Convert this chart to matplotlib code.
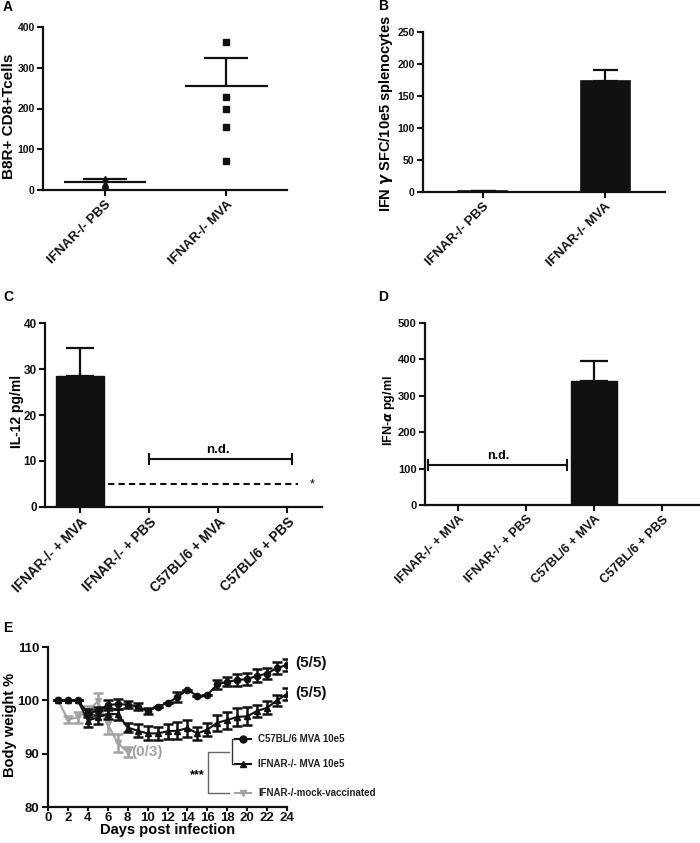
import numpy as np
import matplotlib
matplotlib.use('Agg')
import matplotlib.pyplot as plt
from matplotlib.lines import Line2D

plt.rcParams['font.family'] = ['Liberation Sans', 'DejaVu Sans']
plt.rcParams['font.weight'] = 'bold'
plt.rcParams['axes.labelweight'] = 'bold'

W, H = 700, 843
BLACK = '#111111'
GRAY = '#a3a3a3'

# ---- data ----
# panel A
a_groups = ['IFNAR-/- PBS', 'IFNAR-/- MVA']
a_pbs_points = [28, 15, 10, 6, 3]
a_mva_points = [363, 227, 198, 155, 70]
a_means = [19, 255]
a_sem = [7, 70]

# panel B
b_groups = ['IFNAR-/- PBS', 'IFNAR-/- MVA']
b_values = [2, 174]
b_err = [0, 17]

# panel C
c_groups = ['IFNAR-/- + MVA', 'IFNAR-/- + PBS', 'C57BL/6 + MVA', 'C57BL/6 + PBS']
c_values = [28.5, 0, 0, 0]
c_err = [6, 0, 0, 0]
c_detect_limit = 5
c_nd_level = 10.5

# panel D
d_groups = ['IFNAR-/- + MVA', 'IFNAR-/- + PBS', 'C57BL/6 + MVA', 'C57BL/6 + PBS']
d_values = [0, 0, 340, 0]
d_err = [0, 0, 55, 0]
d_nd_level = 110

# panel E
days = np.arange(1, 25)
c57_w = [100, 100, 100, 97.6, 98.0, 99.1, 99.3, 99.2, 98.8, 98.0, 98.8, 99.5,
         100.6, 102.0, 100.8, 101.0, 103.0, 103.5, 103.8, 104.0, 104.6, 105.0, 106.1, 106.6]
c57_e = [0, 0, 0, 0.8, 0.8, 1.0, 0.9, 0.7, 0.7, 0.6, 0, 0,
         1.0, 0, 0, 0, 0.8, 0.9, 1.1, 1.2, 1.2, 1.0, 1.1, 1.1]
ifnar_w = [100, 100, 100, 96.2, 96.8, 97.5, 97.4, 94.9, 94.3, 93.8, 93.8, 94.2,
           94.3, 94.8, 93.8, 94.5, 95.8, 96.3, 96.9, 97.0, 98.0, 98.6, 100.0, 101.2]
ifnar_e = [0, 0, 0, 1.2, 1.3, 1.0, 1.0, 0.9, 1.2, 1.3, 1.2, 1.4,
           1.6, 1.6, 1.2, 1.2, 1.5, 1.6, 1.7, 1.7, 1.2, 1.2, 1.0, 1.2]
mock_days = np.arange(1, 9)
mock_w = [100, 96.4, 96.8, 98.0, 99.8, 95.5, 92.0, 90.3]
mock_e = [0, 0.7, 1.0, 1.0, 1.6, 1.8, 1.6, 1.0]


def rect(l, t, r, b):
    return [l / W, 1 - b / H, (r - l) / W, (b - t) / H]


def px(x, y):
    return x / W, 1 - y / H


def style(ax, fs=8.0):
    # only the y tick label size here, x labels are set per panel
    for s in ['top', 'right']:
        ax.spines[s].set_visible(False)
    for s in ['left', 'bottom']:
        ax.spines[s].set_linewidth(1.6)
        ax.spines[s].set_color(BLACK)
    ax.tick_params(direction='out', length=4, width=1.5, colors=BLACK, pad=2)
    ax.tick_params(axis='y', labelsize=fs)
    for lab in ax.get_yticklabels():
        lab.set_fontweight('bold')


def cat_labels(ax, labels, fs):
    ax.set_xticks(np.arange(len(labels)))
    ax.set_xticklabels(labels, rotation=45, ha='right', rotation_mode='anchor',
                       fontsize=fs, fontweight='bold')


fig = plt.figure(figsize=(W / 100, H / 100), dpi=100)

# ---- A ----
ax = fig.add_axes(rect(43, 27, 287, 190))
x = np.arange(len(a_groups))
ax.plot(np.full(len(a_pbs_points), x[0]), a_pbs_points, '^', color=BLACK, ms=5)
ax.plot(np.full(len(a_mva_points), x[1]), a_mva_points, 's', color=BLACK, ms=5)
ax.hlines(a_means, x - 0.34, x + 0.34, color=BLACK, lw=1.6)
ax.vlines(x, a_means, np.add(a_means, a_sem), color=BLACK, lw=1.6)
ax.hlines(np.add(a_means, a_sem), x - 0.18, x + 0.18, color=BLACK, lw=1.6)
ax.set_xlim(-0.51, 1.5)
ax.set_ylim(0, 400)
ax.set_yticks([0, 100, 200, 300, 400])
style(ax, 7.5)
cat_labels(ax, a_groups, 9.5)
ax.set_ylabel('B8R+ CD8+Tcells', fontsize=11)
ax.yaxis.set_label_coords(-0.11, 0.45)

# ---- B ----
ax = fig.add_axes(rect(423, 32, 665, 192))
x = np.arange(len(b_groups))
ax.bar(x, b_values, width=0.4, color=BLACK, edgecolor=BLACK, lw=1.2)
ax.errorbar(x, b_values, yerr=[np.zeros(2), b_err], fmt='none', ecolor=BLACK,
            elinewidth=1.6, capsize=9, capthick=1.6)
ax.set_xlim(-0.49, 1.49)
ax.set_ylim(0, 250)
ax.set_yticks([0, 50, 100, 150, 200, 250])
style(ax, 7.5)
cat_labels(ax, b_groups, 9.5)
ax.set_ylabel('IFN $\\gamma$ SFC/10e5 splenocytes', fontsize=10.5)
ax.yaxis.set_label_coords(-0.115, 0.49)

# ---- C ----
ax = fig.add_axes(rect(45, 323, 322, 507))
x = np.arange(len(c_groups))
ax.bar(x, c_values, width=0.7, color=BLACK, edgecolor=BLACK)
ax.errorbar(x[:1], c_values[:1], yerr=[[0], c_err[:1]], fmt='none', ecolor=BLACK,
            elinewidth=1.6, capsize=10, capthick=1.6)
ax.plot([-0.35, 3.15], [c_detect_limit, c_detect_limit], '--', color=BLACK, lw=1.5,
        dashes=(3, 2))
ax.text(3.36, c_detect_limit, '*', ha='center', va='center', fontsize=9, fontweight='normal')
ax.plot([1, 3.07], [c_nd_level, c_nd_level], color=BLACK, lw=1.5)
ax.plot([1, 3.07], [c_nd_level, c_nd_level], '|', color=BLACK, ms=8, mew=1.5)
ax.text(2.0, c_nd_level + 0.6, 'n.d.', ha='center', va='bottom', fontsize=9.5)
ax.set_xlim(-0.507, 3.5)
ax.set_ylim(0, 40)
ax.set_yticks([0, 10, 20, 30, 40])
style(ax, 8.5)
cat_labels(ax, c_groups, 9.8)
ax.set_ylabel('IL-12 pg/ml', fontsize=10)
ax.yaxis.set_label_coords(-0.075, 0.52)

# ---- D ----
ax = fig.add_axes(rect(425, 323, 700, 505))
x = np.arange(len(d_groups))
ax.bar(x, d_values, width=0.68, color=BLACK, edgecolor=BLACK)
ax.errorbar(x[2:3], d_values[2:3], yerr=[[0], d_err[2:3]], fmt='none', ecolor=BLACK,
            elinewidth=1.6, capsize=10, capthick=1.6)
ax.plot([-0.44, 1.6], [d_nd_level, d_nd_level], color=BLACK, lw=1.5)
ax.plot([-0.44, 1.6], [d_nd_level, d_nd_level], '|', color=BLACK, ms=8, mew=1.5)
ax.text(0.6, d_nd_level + 8, 'n.d.', ha='center', va='bottom', fontsize=9)
ax.set_xlim(-0.48, 3.55)
ax.set_ylim(0, 500)
ax.set_yticks([0, 100, 200, 300, 400, 500])
style(ax, 8)
cat_labels(ax, d_groups, 9)
ax.set_ylabel('IFN-$\\alpha$ pg/ml', fontsize=9)
ax.yaxis.set_label_coords(-0.1, 0.52)

# ---- E ----
ax = fig.add_axes(rect(48, 647, 287, 807))
ax.errorbar(mock_days, mock_w, yerr=mock_e, color=GRAY, marker='v', ms=5, lw=1.5,
            elinewidth=1.8, capsize=3.5, capthick=1.8, zorder=2)
ax.errorbar(days, ifnar_w, yerr=ifnar_e, color=BLACK, marker='^', ms=5, lw=1.5,
            elinewidth=1.8, capsize=3.5, capthick=1.8, zorder=3)
ax.errorbar(days, c57_w, yerr=c57_e, color=BLACK, marker='o', ms=4.5, lw=1.5,
            elinewidth=1.8, capsize=3.5, capthick=1.8, zorder=4)
ax.text(days[-1] + 0.8, c57_w[-1] + 0.4, '(5/5)', fontsize=11, va='center', color=BLACK)
ax.text(days[-1] + 0.8, ifnar_w[-1] + 0.2, '(5/5)', fontsize=11, va='center', color=BLACK)
ax.text(mock_days[-1] + 0.4, mock_w[-1], '(0/3)', fontsize=11, va='center', color=GRAY)
ax.set_xlim(0, 24)
ax.set_ylim(80, 110)
ax.set_xticks(np.arange(0, 25, 2))
ax.set_yticks([80, 90, 100, 110])
style(ax, 9.5)
ax.tick_params(axis='x', length=3, pad=0.5, labelsize=9.5)
for lab in ax.get_xticklabels():
    lab.set_fontweight('bold')
ax.set_xlabel('Days post infection', fontsize=10.5)
ax.set_ylabel('Body weight %', fontsize=10.5)
ax.yaxis.set_label_coords(-0.13, 0.51)
ax.xaxis.set_label_coords(0.5, -0.1)

# legend with significance brackets
legend_rows = [('C57BL/6 MVA 10e5', 'o', BLACK, 739),
               ('IFNAR-/- MVA 10e5', '^', BLACK, 764),
               ('IFNAR-/-mock-vaccinated', 'v', GRAY, 793)]
for label, mk, col, yy in legend_rows:
    x0, y0 = px(235, yy)
    x1, _ = px(251, yy)
    fig.add_artist(Line2D([x0, x1], [y0, y0], color=col, lw=1.5, transform=fig.transFigure))
    fig.add_artist(Line2D([(x0 + x1) / 2], [y0], color=col, marker=mk, ms=5,
                          transform=fig.transFigure))
    fig.text(*px(258, yy), label, fontsize=7, va='center', color='#222222')

inner = [px(235, 739), px(232, 739), px(232, 764), px(235, 764)]
fig.add_artist(Line2D([p[0] for p in inner], [p[1] for p in inner], color='#333333',
                      lw=1.0, transform=fig.transFigure))
outer = [px(229, 752), px(208, 752), px(208, 793), px(229, 793)]
fig.add_artist(Line2D([p[0] for p in outer], [p[1] for p in outer], color='#666666',
                      lw=1.0, transform=fig.transFigure))
fig.text(*px(197, 775), '***', fontsize=9, ha='center', va='center')

# panel letters
for letter, xx, yy in [('A', 3, 7), ('B', 378, 6), ('C', 3, 297), ('D', 378, 297), ('E', 3, 628)]:
    fig.text(*px(xx, yy), letter, fontsize=10, fontweight='bold', va='center')

fig.savefig('out.png', dpi=100)
